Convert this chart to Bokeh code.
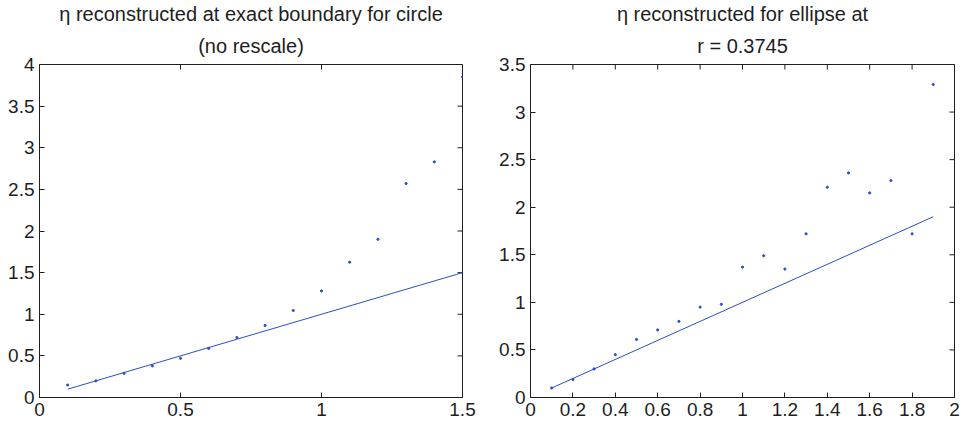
import math
from bokeh.plotting import figure
from bokeh.layouts import row
from bokeh.models import Range1d, FixedTicker, Title
from bokeh.embed import file_html
from bokeh.resources import INLINE

# ---- data: left panel (circle, exact boundary, no rescale) ----
circle_x = [0.1, 0.2, 0.3, 0.4, 0.5, 0.6, 0.7, 0.8, 0.9, 1.0, 1.1, 1.2, 1.3, 1.4, 1.5]
circle_eta = [0.15, 0.20, 0.29, 0.38, 0.47, 0.59, 0.72, 0.865, 1.045, 1.28, 1.625, 1.90, 2.57, 2.83, 3.85]
circle_true_x = [0.1, 1.5]
circle_true_y = [0.1, 1.5]

# ---- data: right panel (ellipse at r = 0.3745) ----
ellipse_x = [0.1, 0.2, 0.3, 0.4, 0.5, 0.6, 0.7, 0.8, 0.9, 1.0, 1.1, 1.2, 1.3, 1.4, 1.5, 1.6, 1.7, 1.8, 1.9]
ellipse_eta = [0.10, 0.19, 0.30, 0.45, 0.61, 0.71, 0.80, 0.95, 0.98, 1.37, 1.49, 1.35, 1.72, 2.21, 2.36, 2.15, 2.28, 1.72, 3.29]
ellipse_true_x = [0.1, 1.9]
ellipse_true_y = [0.1, 1.9]

# ---- ticks ----
left_xticks = [0, 0.5, 1, 1.5]
left_xlabels = ["0", "0.5", "1", "1.5"]
left_yticks = [0, 0.5, 1, 1.5, 2, 2.5, 3, 3.5, 4]
left_ylabels = ["0", "0.5", "1", "1.5", "2", "2.5", "3", "3.5", "4"]
right_xticks = [0, 0.2, 0.4, 0.6, 0.8, 1, 1.2, 1.4, 1.6, 1.8, 2]
right_xlabels = ["0", "0.2", "0.4", "0.6", "0.8", "1", "1.2", "1.4", "1.6", "1.8", "2"]
right_yticks = [0, 0.5, 1, 1.5, 2, 2.5, 3, 3.5]
right_ylabels = ["0", "0.5", "1", "1.5", "2", "2.5", "3", "3.5"]

left_title = ["\u03b7 reconstructed at exact boundary for circle", "(no rescale)"]
right_title = ["\u03b7 reconstructed for ellipse at", "r = 0.3745"]

BLUE = "#2b4fc4"
INK = "#1e1e1e"
FONT = "Liberation Sans"


def style_axis(ax, ticks, labels):
    ax.ticker = FixedTicker(ticks=ticks)
    ax.major_label_overrides = {t: l for t, l in zip(ticks, labels)}
    ax.major_tick_in = 5
    ax.major_tick_out = 0
    ax.minor_tick_in = 0
    ax.minor_tick_out = 0
    ax.axis_line_color = INK
    ax.major_tick_line_color = INK
    ax.major_label_text_color = INK
    ax.major_label_text_font = FONT
    ax.major_label_text_font_size = "19px"
    ax.major_label_standoff = 5


def make_panel(title_lines, xr, yr, xticks, xlabels, yticks, ylabels,
               px, py, lx, ly, fw, bl, br):
    width = bl + fw + br
    p = figure(width=width, height=421, frame_width=fw, frame_height=333,
               min_border_left=bl, min_border_right=br,
               min_border_top=62, min_border_bottom=26,
               x_range=Range1d(*xr), y_range=Range1d(*yr),
               output_backend="svg", toolbar_location=None,
               title=None)
    # second title line (closest to the frame), then first line above it
    for text, standoff in ((title_lines[1], 16), (title_lines[0], 0)):
        p.add_layout(Title(text=text, align="center", text_font=FONT,
                           text_font_size="20px", text_font_style="normal",
                           text_color=INK, standoff=standoff), "above")
    p.xgrid.visible = False
    p.ygrid.visible = False
    p.outline_line_color = INK
    p.outline_line_alpha = 1.0
    style_axis(p.xaxis[0], xticks, xlabels)
    style_axis(p.yaxis[0], yticks, ylabels)
    # mirrored inward ticks on the top and right edges of the box
    p.ray(x=xticks, y=[yr[1]] * len(xticks), length=5, length_units="screen",
          angle=-math.pi / 2, line_color=INK, line_width=1)
    p.ray(x=[xr[1]] * len(yticks), y=yticks, length=5, length_units="screen",
          angle=math.pi, line_color=INK, line_width=1)
    p.line(lx, ly, line_color=BLUE, line_width=1)
    p.scatter(px, py, marker="circle", size=2.2, fill_color=BLUE, line_color=BLUE)
    return p


p1 = make_panel(left_title, (0, 1.5), (0, 4), left_xticks, left_xlabels,
                left_yticks, left_ylabels, circle_x, circle_eta,
                circle_true_x, circle_true_y, fw=423, bl=39, br=18)
p2 = make_panel(right_title, (0, 2), (0, 3.5), right_xticks, right_xlabels,
                right_yticks, right_ylabels, ellipse_x, ellipse_eta,
                ellipse_true_x, ellipse_true_y, fw=424, bl=50, br=10)

layout = row(p1, p2)
open("out.html", "w").write(file_html(layout, INLINE))
